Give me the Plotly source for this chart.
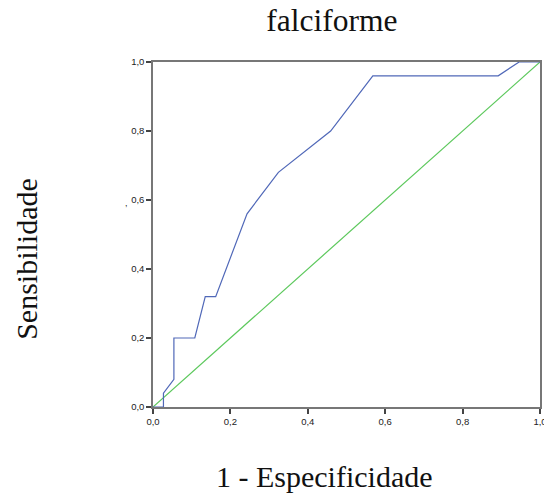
import plotly.graph_objects as go

# ROC curve points (1 - especificidade, sensibilidade)
fpr = [0.0, 0.027, 0.027, 0.054, 0.054, 0.108, 0.135, 0.162, 0.243, 0.324, 0.459, 0.568, 0.892, 0.946, 1.0]
tpr = [0.0, 0.0, 0.04, 0.08, 0.20, 0.20, 0.32, 0.32, 0.56, 0.68, 0.80, 0.96, 0.96, 1.0, 1.0]
ref_x = [0.0, 1.0]
ref_y = [0.0, 1.0]
tick_vals = [0.0, 0.2, 0.4, 0.6, 0.8, 1.0]

SERIF = "Liberation Serif"
SANS = "Liberation Sans"

fig = go.Figure()
fig.add_trace(go.Scatter(x=ref_x, y=ref_y, mode="lines",
                         line=dict(color="#5cc85c", width=1.2), hoverinfo="skip"))
fig.add_trace(go.Scatter(x=fpr, y=tpr, mode="lines",
                         line=dict(color="#5068b8", width=1.2)))

axis_common = dict(
    range=[0, 1], tickvals=tick_vals, tickformat=".1f",
    ticks="outside", ticklen=5, tickwidth=1.5, tickcolor="#444",
    showline=True, linecolor="#777", linewidth=1.5, mirror=True,
    showgrid=False, zeroline=False, ticklabeloverflow="allow", automargin=False,
    tickfont=dict(family=SANS, size=9.5, color="#222"),
)

fig.update_layout(
    width=544, height=493,
    separators=",.",
    showlegend=False,
    plot_bgcolor="white", paper_bgcolor="white",
    margin=dict(l=153, r=4, t=62, b=86, autoexpand=False),
    title=dict(text="falciforme", x=0.61, xanchor="center", y=0.959, yanchor="middle",
               font=dict(family=SERIF, size=31.5, color="#111")),
    xaxis=axis_common,
    yaxis=axis_common,
)
fig.add_annotation(text="1 - Especificidade", x=0.442, y=-0.2, xref="paper", yref="paper",
                   xanchor="center", yanchor="middle", showarrow=False,
                   font=dict(family=SERIF, size=30, color="#111"))
fig.add_annotation(text="Sensibilidade", x=-0.326, y=0.429, xref="paper", yref="paper",
                   xanchor="center", yanchor="middle", showarrow=False, textangle=-90,
                   font=dict(family=SERIF, size=30, color="#111"))
fig.add_annotation(text=",", x=-0.078, y=0.59, xref="paper", yref="paper", showarrow=False,
                   font=dict(family=SANS, size=9, color="#222"))

fig.write_html("out.html", config={"displayModeBar": False},
               post_script="document.body.style.margin='0';")
